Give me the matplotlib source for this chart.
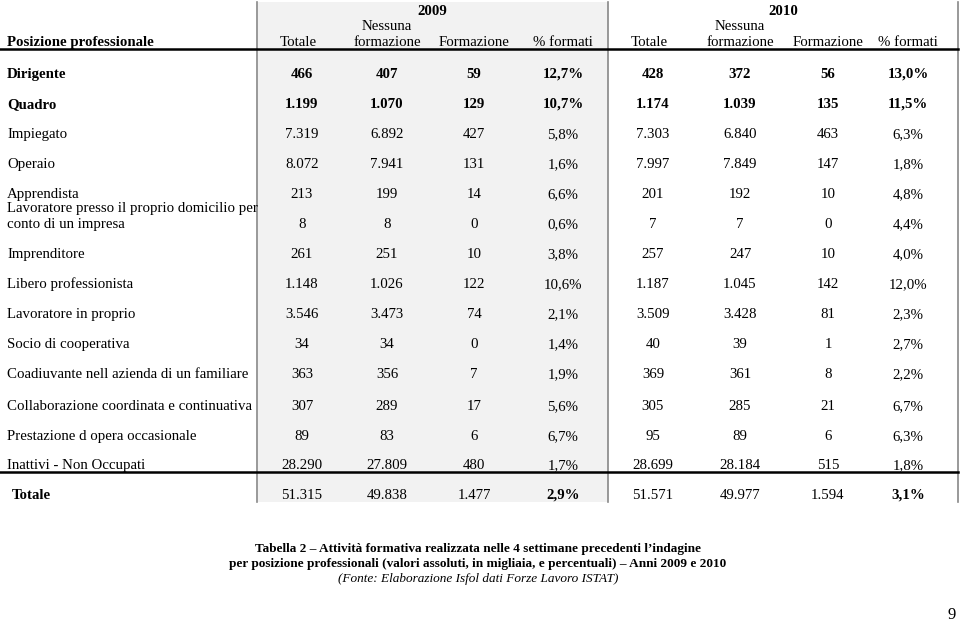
import matplotlib.pyplot as plt
from matplotlib.patches import Rectangle

plt.rcParams['font.family'] = ['Liberation Serif', 'DejaVu Serif']

labels = ["Dirigente", "Quadro", "Impiegato", "Operaio", "Apprendista",
          "Lavoratore presso il proprio domicilio per\nconto di un impresa",
          "Imprenditore", "Libero professionista", "Lavoratore in proprio",
          "Socio di cooperativa", "Coadiuvante nell azienda di un familiare",
          "Collaborazione coordinata e continuativa",
          "Prestazione d opera occasionale", "Inattivi - Non Occupati"]

tot_2009 = ["466", "1.199", "7.319", "8.072", "213", "8", "261", "1.148", "3.546", "34", "363", "307", "89", "28.290"]
nessuna_2009 = ["407", "1.070", "6.892", "7.941", "199", "8", "251", "1.026", "3.473", "34", "356", "289", "83", "27.809"]
form_2009 = ["59", "129", "427", "131", "14", "0", "10", "122", "74", "0", "7", "17", "6", "480"]
perc_2009 = ["12,7%", "10,7%", "5,8%", "1,6%", "6,6%", "0,6%", "3,8%", "10,6%", "2,1%", "1,4%", "1,9%", "5,6%", "6,7%", "1,7%"]

tot_2010 = ["428", "1.174", "7.303", "7.997", "201", "7", "257", "1.187", "3.509", "40", "369", "305", "95", "28.699"]
nessuna_2010 = ["372", "1.039", "6.840", "7.849", "192", "7", "247", "1.045", "3.428", "39", "361", "285", "89", "28.184"]
form_2010 = ["56", "135", "463", "147", "10", "0", "10", "142", "81", "1", "8", "21", "6", "515"]
perc_2010 = ["13,0%", "11,5%", "6,3%", "1,8%", "4,8%", "4,4%", "4,0%", "12,0%", "2,3%", "2,7%", "2,2%", "6,7%", "6,3%", "1,8%"]

totale_row = ["51.315", "49.838", "1.477", "2,9%", "51.571", "49.977", "1.594", "3,1%"]
col_headers = ["Totale", "Nessuna\nformazione", "Formazione", "% formati"]
years = ["2009", "2010"]

# layout (pixels)
row_y = [73, 103, 133, 163, 193, 223, 253, 283, 313, 343, 373, 405, 435, 464]
col_x = [302, 387, 474, 563, 653, 740, 828, 908]
fs = 10.75
fs_cap = 9.5

fig = plt.figure(figsize=(9.6, 6.23), dpi=100)
ax = fig.add_axes([0, 0, 1, 1])
ax.set_xlim(0, 960)
ax.set_ylim(623, 0)
ax.axis('off')

ax.add_patch(Rectangle((258, 2), 350, 500, color='#f2f2f2', lw=0, zorder=0))
for x in [257, 608, 958]:
    ax.plot([x, x], [2, 502], color='#888888', lw=1.2, zorder=2)
ax.plot([0, 958], [49, 49], color='black', lw=1.8, zorder=3)
ax.plot([0, 958], [472, 472], color='black', lw=1.8, zorder=3)

# header
ax.text(7, 46, "Posizione professionale", fontsize=fs, fontweight='bold', va='baseline')
ax.text(432, 15, years[0], fontsize=fs, fontweight='bold', ha='center', va='baseline')
ax.text(783, 15, years[1], fontsize=fs, fontweight='bold', ha='center', va='baseline')
for k in range(8):
    parts = col_headers[k % 4].split("\n")
    dx = -4 if k % 4 == 0 else 0
    for j, p in enumerate(reversed(parts)):
        ax.text(col_x[k] + dx, 46 - 16 * j, p, fontsize=fs, ha='center', va='baseline')

cols = [tot_2009, nessuna_2009, form_2009, perc_2009, tot_2010, nessuna_2010, form_2010, perc_2010]
for i, lab in enumerate(labels):
    w = 'bold' if i < 2 else 'normal'
    y = row_y[i] + 5
    parts = lab.split("\n")
    for j, p in enumerate(reversed(parts)):
        ax.text(7, y - 16 * j, p, fontsize=fs, fontweight=w, va='baseline')
    for k, c in enumerate(cols):
        ax.text(col_x[k], y, c[i], fontsize=fs, fontweight=w, ha='center', va='baseline')

# total row
ax.text(12, 499, "Totale", fontsize=fs, fontweight='bold', va='baseline')
for k, v in enumerate(totale_row):
    w = 'bold' if k % 4 == 3 else 'normal'
    ax.text(col_x[k], 499, v, fontsize=fs, fontweight=w, ha='center', va='baseline')

# caption
ax.text(478, 552, "Tabella 2 \u2013 Attività formativa realizzata nelle 4 settimane precedenti l\u2019indagine",
        fontsize=fs_cap, fontweight='bold', ha='center', va='baseline')
ax.text(478, 567, "per posizione professionali (valori assoluti, in migliaia, e percentuali) \u2013 Anni 2009 e 2010",
        fontsize=fs_cap, fontweight='bold', ha='center', va='baseline')
ax.text(478, 582, "(Fonte: Elaborazione Isfol dati Forze Lavoro ISTAT)",
        fontsize=fs_cap, style='italic', ha='center', va='baseline')
ax.text(952, 619, "9", fontsize=12, ha='center', va='baseline')

fig.savefig("out.png", dpi=100)
